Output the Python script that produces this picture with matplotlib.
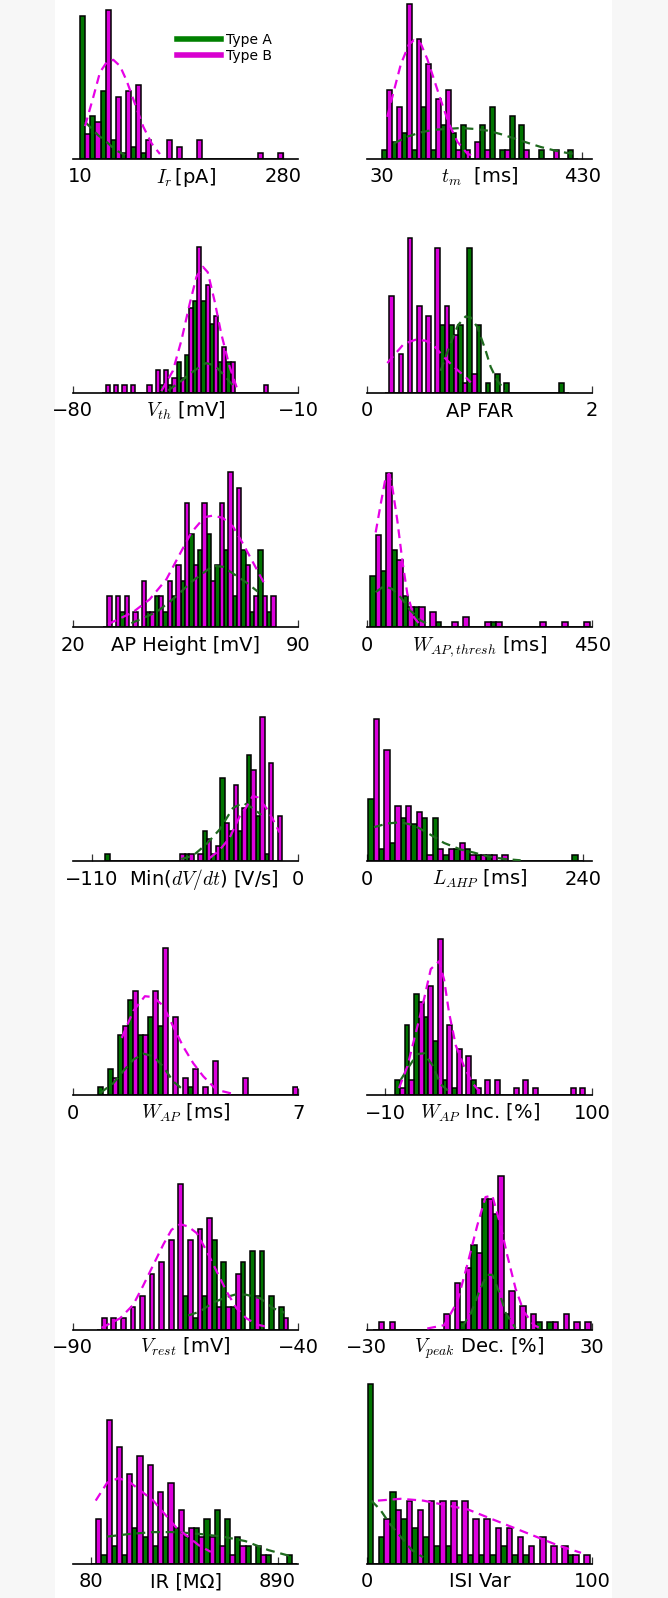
import numpy as np
import matplotlib
matplotlib.use("Agg")
import matplotlib.pyplot as plt
from matplotlib.patches import Rectangle
from matplotlib.lines import Line2D

plt.rcParams['font.family'] = ['DejaVu Sans']
plt.rcParams['mathtext.fontset'] = 'cm'

# ---------------- data (counts per bin; 20 bins over each range) ----------------
ir_range = [10, 280]
ir_a = [23, 7, 11, 3, 1, 2, 1, 0, 0, 0, 0, 0, 0, 0, 0, 0, 0, 0, 0, 0]
ir_b = [4, 6, 24, 10, 11, 12, 3, 0, 3, 2, 0, 3, 0, 0, 0, 0, 0, 1, 0, 1]
ir_fit_a_x = [16.4, 25.3, 34.1, 43, 51.8, 60.7, 69.6]
ir_fit_a_y = [6.0, 4.9, 3.8, 3.0, 2.0, 1.2, 0.64]
ir_fit_b_x = [16.4, 27.4, 36.3, 45.2, 54, 62.9, 71.8, 82.8, 93.9, 105, 116]
ir_fit_b_y = [5.3, 10.0, 14.0, 15.6, 16.0, 15.0, 12.6, 8.9, 5.2, 2.5, 0.8]

tm_range = [31, 422]
tm_a = [1, 2, 3, 1, 6, 1, 4, 3, 4, 0, 4, 6, 1, 5, 4, 0, 1, 0, 0, 1]
tm_b = [8, 6, 18, 14, 11, 7, 8, 1, 1, 2, 1, 0, 1, 0, 1, 0, 0, 1, 0, 0]
tm_fit_a_x = [54, 81, 108, 134, 161, 187, 214, 241, 267, 294, 320, 347, 374, 400, 414]
tm_fit_a_y = [1.8, 2.6, 3.1, 3.4, 3.5, 3.6, 3.5, 3.3, 2.9, 2.4, 1.9, 1.4, 1.0, 0.7, 0.6]
tm_fit_b_x = [41, 51, 68, 84, 94, 108, 121, 134, 148, 164, 181, 201, 221]
tm_fit_b_y = [4.9, 7.2, 11, 13.3, 13.8, 13.4, 11.6, 9.3, 6.8, 4.1, 2, 0.6, 0.2]

vth_range = [-71, -19.4]
vth_a = [0, 0, 0, 0, 0, 0, 0, 1, 1, 4, 5, 12, 12, 9, 4, 4, 0, 0, 0, 0]
vth_b = [1, 1, 1, 1, 0, 1, 3, 3, 2, 2, 11, 19, 14, 10, 6, 4, 0, 0, 0, 1]
vth_fit_a_x = [-50.4, -46.8, -43.7, -40.6, -38.6, -36, -33.4, -30.3]
vth_fit_a_y = [0.35, 1.4, 2.5, 3.4, 3.9, 3.6, 2.5, 1.0]
vth_fit_b_x = [-52.5, -48.9, -46.3, -43.7, -41.6, -39.6, -38.1, -36, -33.9, -31.3, -28.8]
vth_fit_b_y = [0.26, 2.9, 6.8, 11.6, 15.1, 16.4, 15.7, 12, 7.7, 3.4, 0.35]

far_range = [0.16, 1.79]
far_a = [0, 0, 0, 0, 0, 0, 7, 7, 7, 15, 7, 1, 2, 1, 0, 0, 0, 0, 0, 1]
far_b = [10, 4, 16, 9, 8, 15, 9, 6, 1, 2, 0, 0, 0, 0, 0, 0, 0, 0, 0, 0]
far_fit_a_x = [0.656, 0.729, 0.809, 0.877, 0.922, 0.981, 1.054, 1.099, 1.157, 1.232]
far_fit_a_y = [2.3, 4.7, 7.0, 7.9, 7.8, 6.8, 4.4, 2.7, 1.3, 0.2]
far_fit_b_x = [0.183, 0.331, 0.434, 0.523, 0.596, 0.685, 0.773, 0.877, 0.922]
far_fit_b_y = [3.1, 5.1, 5.5, 5.4, 4.9, 3.7, 2.7, 1.65, 1.1]

aph_range = [29.4, 83]
aph_a = [0, 0, 1, 0, 0, 1, 2, 1, 2, 3, 6, 5, 6, 4, 5, 2, 5, 1, 5, 1]
aph_b = [2, 2, 2, 1, 3, 1, 2, 3, 4, 8, 4, 8, 3, 8, 10, 9, 4, 2, 2, 2]
aph_fit_a_x = [38.2, 46.0, 51.6, 57.3, 63.5, 66.6, 70.2, 73.8, 77.4]
aph_fit_a_y = [0.26, 0.97, 1.9, 3.0, 3.96, 3.9, 3.4, 2.9, 2.3]
aph_fit_b_x = [31.0, 38.7, 43.9, 49.1, 53.7, 56.8, 60.9, 63.5, 66.6, 69.7, 72.8, 75.9, 80]
aph_fit_b_y = [0.2, 0.97, 1.8, 3.1, 4.9, 6.1, 7.1, 7.2, 7.05, 6.5, 5.4, 4.2, 2.6]

wth_range = [6.6, 445]
wth_a = [10, 11, 15, 6, 4, 0, 1, 0, 0, 0, 0, 1, 0, 0, 0, 0, 0, 0, 0, 0]
wth_b = [18, 30, 13, 4, 4, 3, 0, 1, 2, 0, 1, 1, 0, 0, 0, 1, 0, 1, 0, 1]
wth_fit_a_x = [17.9, 34.6, 51.1, 67.8, 87.7, 107.7, 127.6]
wth_fit_a_y = [6.8, 8.0, 7.4, 5.8, 3.2, 1.3, 0.3]
wth_fit_b_x = [17.9, 27.9, 37.9, 44.5, 51.1, 61.1, 71.1, 81, 94.4, 107.7]
wth_fit_b_y = [18.4, 23.9, 29.1, 29.8, 27.2, 20.7, 12.9, 6.5, 1.9, 0.3]

dvdt_range = [-102.7, -8.5]
dvdt_a = [1, 0, 0, 0, 0, 0, 0, 0, 0, 1, 0, 4, 1, 11, 4, 4, 14, 6, 1, 0]
dvdt_b = [0, 0, 0, 0, 0, 0, 0, 0, 1, 1, 1, 3, 2, 5, 10, 7, 12, 19, 13, 6]
dvdt_fit_a_x = [-62.2, -56, -48.9, -41.8, -34.8, -29.5, -24.2, -19.7]
dvdt_fit_a_y = [0.3, 0.74, 2.25, 4.2, 7.0, 7.7, 7.0, 6.1]
dvdt_fit_b_x = [-47.1, -41.8, -36.5, -31.2, -27.7, -24.2, -21.5, -17.0, -13.5, -10.0]
dvdt_fit_b_y = [0.43, 1.5, 3.1, 5.9, 7.1, 8.6, 8.4, 7.0, 5.5, 3.8]

lahp_range = [1.8, 239.7]
lahp_a = [10, 2, 3, 7, 6, 7, 7, 1, 2, 2, 1, 1, 0, 0, 0, 0, 0, 0, 0, 1]
lahp_b = [23, 18, 9, 9, 8, 1, 2, 2, 3, 1, 1, 1, 1, 0, 0, 0, 0, 0, 0, 0]
lahp_fit_a_x = [8.1, 22.8, 37.7, 52.4, 67.2, 85.7, 104.2, 118.9, 133.7, 152.2, 170.6]
lahp_fit_a_y = [5.5, 6.1, 6.3, 5.8, 4.6, 2.96, 1.9, 1.4, 0.8, 0.38, 0.16]
lahp_fit_b_x = []
lahp_fit_b_y = []

wap_range = [0.78, 7.0]
wap_a = [1, 3, 7, 11, 7, 9, 8, 0, 0, 1, 0, 0, 0, 0, 0, 0, 0, 0, 0, 0]
wap_b = [0, 2, 8, 12, 7, 12, 17, 9, 2, 3, 1, 4, 0, 0, 2, 0, 0, 0, 0, 1]
wap_fit_a_x = [0.85, 1.26, 1.57, 1.88, 2.19, 2.5, 2.81, 3.12, 3.43]
wap_fit_a_y = [0.27, 1.4, 2.8, 4.1, 4.8, 4.5, 3.3, 1.6, 0.65]
wap_fit_b_x = [1.52, 1.88, 2.24, 2.5, 2.81, 3.12, 3.43, 3.74, 4.05, 4.46, 5.08]
wap_fit_b_y = [6.6, 9.7, 11.4, 11.3, 10.3, 7.9, 5.6, 3.7, 2.2, 0.65, 0.08]

winc_range = [-4.9, 96.2]
winc_a = [2, 9, 13, 10, 7, 2, 1, 0, 2, 0, 0, 0, 0, 0, 0, 0, 0, 0, 0, 0]
winc_b = [1, 2, 12, 14, 20, 9, 6, 5, 1, 2, 2, 0, 1, 2, 1, 0, 0, 0, 1, 1]
winc_fit_a_x = [-1.9, 2.5, 6.9, 10.5, 14.9, 19.4, 23.8]
winc_fit_a_y = [2.0, 3.7, 5.3, 5.4, 3.9, 1.4, 0.5]
winc_fit_b_x = [-2.8, 1.6, 6.1, 9.6, 14.1, 18.5, 21.2, 23.8, 27.4, 31.8, 36.2, 40.7]
winc_fit_b_y = [0.94, 3.7, 8, 11.4, 16.2, 17.2, 14.8, 10.6, 6.4, 3.7, 1.6, 0.3]

vrest_range = [-84.6, -42.2]
vrest_a = [0, 0, 0, 0, 0, 0, 0, 0, 0, 3, 1, 3, 8, 6, 2, 6, 7, 7, 3, 2]
vrest_b = [1, 1, 1, 2, 3, 5, 6, 8, 13, 8, 9, 10, 2, 2, 5, 0, 3, 0, 0, 1]
vrest_fit_a_x = [-64.4, -61.8, -58.9, -55.9, -53.7, -51.5, -48.5, -45.6, -43.0]
vrest_fit_a_y = [1.25, 1.6, 2.4, 2.9, 3.15, 3.1, 2.8, 1.9, 1.5]
vrest_fit_b_x = [-83.6, -79.5, -76.6, -74.4, -72.1, -69.9, -68.1, -66.2, -64.4, -62.5,
                 -60.3, -58.1, -55.9, -53.7, -51.5, -49.2, -47.0]
vrest_fit_b_y = [0.15, 1.0, 2.2, 3.9, 5.8, 7.6, 8.9, 9.4, 9.2, 8.6, 7.0, 5.2, 3.4, 1.9,
                 1.0, 0.45, 0.24]

vpk_range = [-28.2, 29.6]
vpk_a = [0, 0, 0, 0, 0, 0, 0, 0, 1, 11, 17, 15, 2, 0, 0, 1, 1, 0, 0, 0]
vpk_b = [1, 1, 0, 0, 0, 0, 2, 6, 8, 10, 17, 20, 5, 3, 2, 0, 1, 2, 1, 1]
vpk_fit_a_x = [-4.6, -2.3, -0.1, 1.9, 3.4, 5.2, 7.0, 9.6]
vpk_fit_a_y = [0.35, 2.1, 4.9, 7.1, 7.1, 4.9, 2.1, 0.2]
vpk_fit_b_x = [-13.9, -9.4, -5.9, -3.25, -0.6, 1.6, 3.4, 5.6, 7.4, 9.6, 11.8, 14.5, 16.3]
vpk_fit_b_y = [0.13, 0.56, 3.6, 8.4, 13.5, 17.2, 17.4, 13.5, 9.6, 5.3, 2.3, 0.56, 0.13]

rin_range = [80, 975]
rin_a = [0, 1, 2, 1, 4, 3, 2, 3, 4, 3, 4, 5, 6, 5, 3, 2, 2, 1, 0, 1]
rin_b = [5, 16, 13, 10, 12, 11, 8, 9, 6, 4, 3, 3, 2, 1, 2, 0, 1, 0, 0, 0]
rin_fit_a_x = [150, 250, 350, 450, 550, 650, 750, 850, 950]
rin_fit_a_y = [3, 3.3, 3.5, 3.5, 3.3, 3, 2.5, 1.5, 0.8]
rin_fit_b_x = [100, 150, 200, 250, 300, 350, 400, 450, 500, 550, 600]
rin_fit_b_y = [7, 9, 9.5, 9, 8, 7, 5.5, 4, 3, 2, 1.3]

isi_range = [0.5, 99]
isi_a = [20, 3, 8, 5, 4, 3, 2, 2, 1, 1, 1, 1, 2, 1, 1, 0, 0, 0, 1, 0]
isi_b = [0, 5, 6, 7, 6, 7, 7, 7, 7, 5, 5, 4, 4, 3, 2, 3, 2, 2, 1, 1]
isi_fit_a_x = [2, 6, 10, 15, 20, 25]
isi_fit_a_y = [7, 6, 4.5, 3, 1.5, 0.7]
isi_fit_b_x = [5, 15, 25, 35, 45, 55, 65, 75, 85, 95]
isi_fit_b_y = [7, 7.2, 7, 6.5, 6, 5, 4, 3, 2, 1.2]

labels = [r'$I_r\,$[pA]', r'$t_m$  [ms]',
          r'$V_{th}$ [mV]', 'AP FAR',
          'AP Height [mV]', r'$W_{AP,thresh}$ [ms]',
          r'Min($dV/dt$) [V/s]', r'$L_{AHP}$ [ms]',
          r'$W_{AP}$ [ms]', r'$W_{AP}$ Inc. [%]',
          r'$V_{rest}$ [mV]', r'$V_{peak}$ Dec. [%]',
          'IR [MΩ]', 'ISI Var']
xlims = [(0, 300), (0, 450), (-80, -10), (0, 2), (20, 90), (0, 450), (-120, 0),
         (0, 250), (0, 7), (-20, 100), (-90, -40), (-30, 30), (0, 980), (0, 100)]
xticks = [(10, 280), (30, 430), (-80, -10), (0, 2), (20, 90), (0, 450), (-110, 0),
          (0, 240), (0, 7), (-10, 100), (-90, -40), (-30, 30), (80, 890), (0, 100)]
legend_labels = ['Type A', 'Type B']

panels = [
    (ir_range, ir_a, ir_b, ir_fit_a_x, ir_fit_a_y, ir_fit_b_x, ir_fit_b_y),
    (tm_range, tm_a, tm_b, tm_fit_a_x, tm_fit_a_y, tm_fit_b_x, tm_fit_b_y),
    (vth_range, vth_a, vth_b, vth_fit_a_x, vth_fit_a_y, vth_fit_b_x, vth_fit_b_y),
    (far_range, far_a, far_b, far_fit_a_x, far_fit_a_y, far_fit_b_x, far_fit_b_y),
    (aph_range, aph_a, aph_b, aph_fit_a_x, aph_fit_a_y, aph_fit_b_x, aph_fit_b_y),
    (wth_range, wth_a, wth_b, wth_fit_a_x, wth_fit_a_y, wth_fit_b_x, wth_fit_b_y),
    (dvdt_range, dvdt_a, dvdt_b, dvdt_fit_a_x, dvdt_fit_a_y, dvdt_fit_b_x, dvdt_fit_b_y),
    (lahp_range, lahp_a, lahp_b, lahp_fit_a_x, lahp_fit_a_y, lahp_fit_b_x, lahp_fit_b_y),
    (wap_range, wap_a, wap_b, wap_fit_a_x, wap_fit_a_y, wap_fit_b_x, wap_fit_b_y),
    (winc_range, winc_a, winc_b, winc_fit_a_x, winc_fit_a_y, winc_fit_b_x, winc_fit_b_y),
    (vrest_range, vrest_a, vrest_b, vrest_fit_a_x, vrest_fit_a_y, vrest_fit_b_x, vrest_fit_b_y),
    (vpk_range, vpk_a, vpk_b, vpk_fit_a_x, vpk_fit_a_y, vpk_fit_b_x, vpk_fit_b_y),
    (rin_range, rin_a, rin_b, rin_fit_a_x, rin_fit_a_y, rin_fit_b_x, rin_fit_b_y),
    (isi_range, isi_a, isi_b, isi_fit_a_x, isi_fit_a_y, isi_fit_b_x, isi_fit_b_y),
]

# ---------------- layout / style ----------------
W, H = 668, 1598
GREEN = '#007400'
MAGENTA = '#dc00dc'
FIT_GREEN = '#1f6a1f'
FIT_MAGENTA = '#e600e6'
px_per_count = [6.2, 8.6, 7.7, 9.7, 15.5, 5.15, 7.6, 6.2, 8.7, 7.8, 11.2, 7.7, 9.0, 9.0]
label_dx_px = [0, 0, 0, 0, 0, 0, 18, 0, 0, 0, 0, 0, 0, 0]
col_left = [72.7, 366.7]
ax_w = 225.6
ax_h = 190.0
base0, row_step = 159.0, 234.1

fig = plt.figure(figsize=(W / 100, H / 100), dpi=100, facecolor='#f7f7f7')
bg = Rectangle((55 / W, 0), (612 - 55) / W, 1, transform=fig.transFigure,
               facecolor='white', edgecolor='none', zorder=-10)
fig.add_artist(bg)

for k, (rng, a, b, fax, fay, fbx, fby) in enumerate(panels):
    row, col = divmod(k, 2)
    base = base0 + row_step * row
    ax = fig.add_axes([col_left[col] / W, 1 - base / H, ax_w / W, ax_h / H])
    ax.set_facecolor('none')
    ax.set_zorder(1)
    edges = np.linspace(rng[0], rng[1], len(a) + 1)
    centers = 0.5 * (edges[:-1] + edges[1:])
    ax.hist([centers, centers], bins=edges, weights=[a, b], rwidth=1.0,
            histtype='bar', color=[GREEN, MAGENTA], edgecolor='black', linewidth=1.1,
            zorder=2)
    if len(fax):
        ax.plot(fax, fay, color=FIT_GREEN, lw=1.6, ls=(0, (4, 2.6)), zorder=3)
    if len(fbx):
        ax.plot(fbx, fby, color=FIT_MAGENTA, lw=1.6, ls=(0, (4, 2.6)), zorder=3)
    ax.set_xlim(*xlims[k])
    ax.set_ylim(0, ax_h / px_per_count[k])
    for s in ('top', 'left', 'right'):
        ax.spines[s].set_visible(False)
    ax.spines['bottom'].set_linewidth(1.2)
    ax.set_yticks([])
    ax.set_xticks(list(xticks[k]))
    ax.set_xticklabels([str(v).replace('-', '\u2212') for v in xticks[k]])
    ax.tick_params(axis='x', direction='in', length=5, width=0.9, color='#333333',
                   pad=6, labelsize=14)
    ax.annotate(labels[k], xy=(0.5, 0), xycoords='axes fraction',
                xytext=(label_dx_px[k] * 0.72, -17.0),
                textcoords='offset points', ha='center', va='baseline', fontsize=14)
    if k == 0:
        handles = [Line2D([], [], color='green', lw=4),
                   Line2D([], [], color='#d800d0', lw=4)]
        leg = fig.legend(handles, legend_labels, loc='upper left',
                         bbox_to_anchor=(177 / W, 1 - 33 / H), frameon=False, fontsize=10,
                         handlelength=3.2, handletextpad=0.36, labelspacing=0.15,
                         borderpad=0, borderaxespad=0)
        leg.set_zorder(5)

fig.savefig('out.png', dpi=100, facecolor=fig.get_facecolor())
